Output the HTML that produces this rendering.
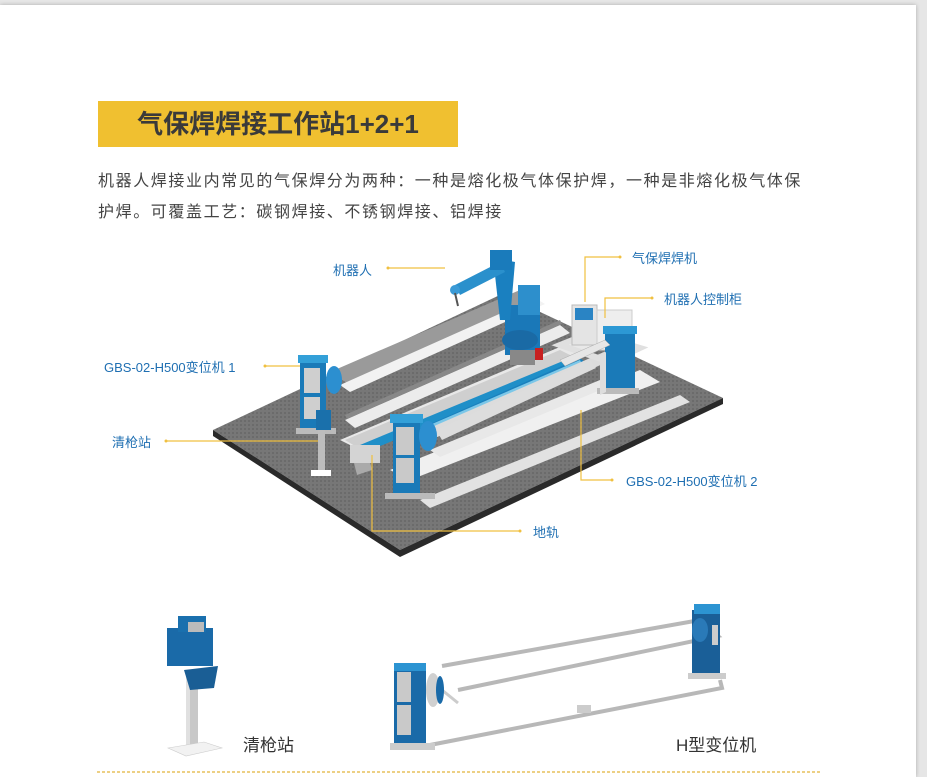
<!DOCTYPE html>
<html><head><meta charset="utf-8">
<style>
html,body{margin:0;padding:0;}
body{width:927px;height:777px;background:#e6e6e6;position:relative;overflow:hidden;font-family:"Liberation Sans","Noto Sans CJK SC",sans-serif;}
.card{position:absolute;left:0;top:5px;width:916px;height:772px;background:#fff;box-shadow:0 0 4px rgba(0,0,0,.25);}
.title{position:absolute;left:98px;top:101px;width:360px;height:46px;background:#f0c030;color:#3a3a3a;font-size:26px;font-weight:bold;line-height:46px;text-align:center;}
.p{position:absolute;left:98px;color:#444;font-size:16px;letter-spacing:1.6px;white-space:nowrap;}
.lb{position:absolute;color:#1f6fb2;font-size:13px;white-space:nowrap;}
.bl{position:absolute;color:#333;font-size:17px;white-space:nowrap;}
svg{position:absolute;left:0;top:0;}
</style></head><body>
<div class="card"></div>
<div class="title">气保焊焊接工作站1+2+1</div>
<div class="p" style="top:167px">机器人焊接业内常见的气保焊分为两种：一种是熔化极气体保护焊，一种是非熔化极气体保</div>
<div class="p" style="top:198px">护焊。可覆盖工艺：碳钢焊接、不锈钢焊接、铝焊接</div>

<svg width="927" height="777" viewBox="0 0 927 777">
<defs>
<pattern id="g" width="4" height="4" patternUnits="userSpaceOnUse"><rect width="4" height="4" fill="#777"/><rect width="2" height="2" fill="#6b6b6b"/></pattern>
</defs>
<polygon points="213,430 502,294 723,398 400,550" fill="url(#g)"/>
<polygon points="213,430 400,550 723,398 723,404 400,557 213,436" fill="#2a2a2a"/>
<polygon points="330,372 520,290 540,300 350,385" fill="#9a9a9a"/>
<polygon points="340,385 535,298 545,304 350,392" fill="#f2f2f2"/>
<polygon points="345,420 560,325 570,333 355,428" fill="#ececec"/>
<polygon points="345,415 560,320 562,324 347,419" fill="#888"/>
<polygon points="340,440 600,330 620,340 360,450" fill="#e8e8e8"/>
<polygon points="390,470 640,370 660,382 410,480" fill="#f0f0f0"/>
<polygon points="420,500 680,395 690,402 430,508" fill="#e2e2e2"/>
<polygon points="345,440 560,350 580,360 365,452" fill="#cfcfcf"/>
<polygon points="360,445 575,356 580,362 366,452" fill="#1f8fc8"/>
<polygon points="352,455 367,450 372,470 357,475" fill="#aaa"/>
<polygon points="405,435 580,358 590,366 415,444" fill="#1a80bd"/>
<polygon points="395,440 580,360 582,364 397,444" fill="#7cc7e8"/>
<polygon points="425,430 620,345 630,352 435,438" fill="#dcdcdc"/>
<polygon points="430,450 600,380 610,386 440,457" fill="#e8e8e8"/>
<polygon points="560,345 590,333 640,348 610,362" fill="none" stroke="#e0e0e0" stroke-width="6"/>
<rect x="505" y="305" width="35" height="50" fill="#1a78b8"/>
<ellipse cx="520" cy="340" rx="18" ry="10" fill="#1a6aa5"/>
<rect x="510" y="350" width="25" height="15" fill="#888"/>
<polygon points="495,275 505,260 515,262 510,320 500,320" fill="#1a80c0"/>
<rect x="518" y="285" width="22" height="30" fill="#2d8fcc"/>
<polygon points="455,285 500,262 505,272 460,295" fill="#2a90cc"/>
<rect x="490" y="250" width="22" height="20" fill="#1a7bbb"/>
<circle cx="455" cy="290" r="5" fill="#3a9ad6"/>
<line x1="455" y1="293" x2="458" y2="306" stroke="#555" stroke-width="2"/>
<rect x="535" y="348" width="8" height="12" fill="#c82020"/>
<rect x="572" y="305" width="25" height="40" fill="#e4e4e4" stroke="#bbb"/>
<rect x="575" y="308" width="18" height="12" fill="#2a84c4"/>
<rect x="597" y="310" width="35" height="40" fill="#eee" stroke="#ccc"/>
<rect x="605" y="330" width="30" height="60" fill="#1a7ab8"/>
<rect x="603" y="326" width="34" height="8" fill="#2c98d4"/>
<rect x="597" y="388" width="42" height="6" fill="#bbb"/>
<polygon points="560,360 605,340 610,345 565,366" fill="#e6e6e6" stroke="#aaa" stroke-width="0.5"/>
<polygon points="600,355 606,352 606,392 600,395" fill="#ddd"/>
<rect x="300" y="360" width="26" height="70" fill="#1a7ab8"/>
<rect x="304" y="368" width="16" height="25" fill="#cfcfcf"/>
<rect x="304" y="397" width="16" height="22" fill="#cfcfcf"/>
<rect x="298" y="355" width="30" height="8" fill="#33a0d8"/>
<ellipse cx="334" cy="380" rx="8" ry="14" fill="#2c8fd0"/>
<rect x="296" y="428" width="40" height="6" fill="#bbb"/>
<rect x="316" y="410" width="15" height="20" fill="#1a70ab"/>
<rect x="318" y="430" width="7" height="40" fill="#bdbdbd"/>
<rect x="311" y="470" width="20" height="6" fill="#fff"/>
<rect x="393" y="420" width="27" height="75" fill="#1a7ab8"/>
<rect x="396" y="427" width="18" height="28" fill="#c9c9c9"/>
<rect x="396" y="458" width="18" height="25" fill="#c9c9c9"/>
<rect x="390" y="414" width="33" height="9" fill="#33a0d8"/>
<ellipse cx="428" cy="436" rx="9" ry="15" fill="#2c8fd0"/>
<polygon points="436,430 590,360 596,368 442,440" fill="#ddd"/>
<rect x="385" y="493" width="50" height="6" fill="#bbb"/>
<rect x="350" y="445" width="30" height="18" fill="#d4d4d4"/>

<g stroke="#f0c040" stroke-width="1.2" fill="none">
<line x1="388" y1="268" x2="445" y2="268"/>
<polyline points="585,302 585,257 620,257"/>
<polyline points="605,318 605,298 652,298"/>
<line x1="265" y1="366" x2="300" y2="366"/>
<line x1="166" y1="441" x2="318" y2="441"/>
<polyline points="581,410 581,480 612,480"/>
<polyline points="372,455 372,531 520,531"/>
</g>
<g fill="#f0c040">
<circle cx="388" cy="268" r="1.5"/><circle cx="620" cy="257" r="1.5"/><circle cx="652" cy="298" r="1.5"/>
<circle cx="265" cy="366" r="1.5"/><circle cx="166" cy="441" r="1.5"/><circle cx="612" cy="480" r="1.5"/><circle cx="520" cy="531" r="1.5"/>
</g>

<rect x="186" y="676" width="12" height="70" fill="#c8c8c8"/>
<rect x="186" y="676" width="4" height="70" fill="#e0e0e0"/>
<polygon points="168,748 204,742 222,748 186,756" fill="#f2f2f2" stroke="#ccc" stroke-width="0.6"/>
<rect x="167" y="628" width="46" height="38" fill="#1a6aa8"/>
<rect x="178" y="616" width="28" height="16" fill="#1a70ae"/>
<rect x="188" y="622" width="16" height="10" fill="#bbb"/>
<polygon points="184,670 218,666 214,688 190,690" fill="#1a5e95"/>
<g stroke="#b8b8b8" stroke-width="4" fill="none">
<polyline points="442,666 700,620 718,636 458,690"/>
<polyline points="430,745 722,688 720,680"/>
</g>
<polyline points="442,690 458,703" stroke="#ccc" stroke-width="3" fill="none"/>
<rect x="394" y="665" width="32" height="80" fill="#1a6aa8"/>
<rect x="397" y="672" width="14" height="30" fill="#c9c9c9"/>
<rect x="397" y="705" width="14" height="30" fill="#c9c9c9"/>
<rect x="394" y="663" width="32" height="8" fill="#2c94d2"/>
<ellipse cx="433" cy="690" rx="7" ry="17" fill="#d0d0d0"/>
<ellipse cx="440" cy="690" rx="4" ry="14" fill="#1a6aa8"/>
<rect x="390" y="743" width="45" height="7" fill="#ccc"/>
<rect x="692" y="610" width="28" height="65" fill="#1a5f98"/>
<rect x="694" y="604" width="26" height="10" fill="#2c94d2"/>
<ellipse cx="700" cy="630" rx="8" ry="12" fill="#2a7ab8"/>
<rect x="712" y="625" width="6" height="20" fill="#ccc"/>
<rect x="688" y="673" width="38" height="6" fill="#ccc"/>
<rect x="577" y="705" width="14" height="8" fill="#ccc"/>

<line x1="97" y1="772" x2="822" y2="772" stroke="#e2b43a" stroke-width="1.2" stroke-dasharray="3,2"/>
</svg>

<div class="lb" style="left:333px;top:260px">机器人</div>
<div class="lb" style="left:632px;top:248px">气保焊焊机</div>
<div class="lb" style="left:664px;top:289px">机器人控制柜</div>
<div class="lb" style="left:104px;top:357px">GBS-02-H500变位机 1</div>
<div class="lb" style="left:112px;top:432px">清枪站</div>
<div class="lb" style="left:626px;top:471px">GBS-02-H500变位机 2</div>
<div class="lb" style="left:533px;top:522px">地轨</div>
<div class="bl" style="left:243px;top:731px">清枪站</div>
<div class="bl" style="left:676px;top:731px">H型变位机</div>
</body></html>
